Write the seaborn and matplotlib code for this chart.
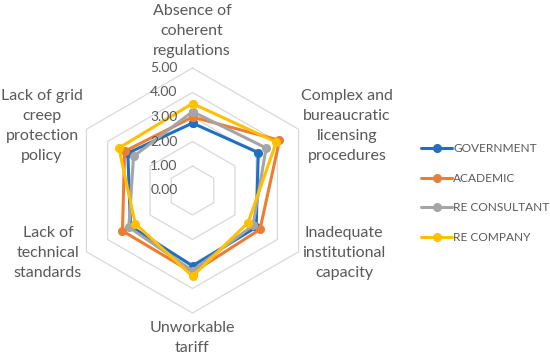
import numpy as np
import matplotlib
matplotlib.use('Agg')
import matplotlib.pyplot as plt
from matplotlib.transforms import offset_copy
import seaborn as sns

# data (clockwise from the top axis)
categories = ['Absence of\ncoherent\nregulations',
              'Complex and\nbureaucratic\nlicensing\nprocedures',
              'Inadequate\ninstitutional\ncapacity',
              'Unworkable\ntariff',
              'Lack of\ntechnical\nstandards',
              'Lack of grid\ncreep\nprotection\npolicy']
groups = ['GOVERNMENT', 'ACADEMIC', 'RE CONSULTANT', 'RE COMPANY']
government = [2.75, 3.10, 3.00, 3.08, 2.92, 3.05]
academic = [3.00, 4.10, 3.18, 3.35, 3.30, 3.20]
re_consultant = [3.22, 3.47, 2.85, 3.27, 3.00, 2.78]
re_company = [3.55, 3.95, 2.62, 3.50, 2.70, 3.47]
levels = [0, 1, 2, 3, 4, 5]

sns.set_style('white')
plt.rcParams['font.family'] = ['Lato', 'DejaVu Sans']
text_col = '#595959'
colors = ['#1F6FC5', '#ED7D31', '#A5A5A5', '#FFC000']

W, H = 550, 358
fig = plt.figure(figsize=(W / 100, H / 100), dpi=100)
cx, cy, R = 192.5, 190.5, 122.5
ax = fig.add_axes([(cx - R) / W, (H - cy - R) / H, 2 * R / W, 2 * R / H],
                  projection='polar')
ax.set_theta_zero_location('N')
ax.set_theta_direction(-1)
ax.set_ylim(0, 5)
ax.grid(False)
ax.set_xticks([])
ax.set_yticks([])
ax.spines['polar'].set_visible(False)
ax.patch.set_alpha(0)

n = len(categories)
angles = np.linspace(0, 2 * np.pi, n, endpoint=False).tolist()
angles_closed = angles + angles[:1]

# hexagonal grid
for lvl in levels[1:]:
    ax.plot(angles_closed, [lvl] * (n + 1), color='#D9D9D9', lw=0.9,
            zorder=0, clip_on=False)

# radial tick labels
tick_tr = offset_copy(ax.transData, fig=fig, x=-15, y=0, units='dots')
for lvl in levels:
    ax.text(0, lvl, f'{lvl:.2f}', transform=tick_tr, ha='right', va='center',
            fontsize=10, color=text_col)

series = [government, academic, re_consultant, re_company]
for name, vals, col in zip(groups, series, colors):
    ax.plot(angles_closed, vals + vals[:1], color=col, lw=2.2, marker='o',
            markersize=5.5, label=name, clip_on=False)

# category labels
label_pos = [(192, 31), (347, 126), (344, 253), (192, 338), (48, 253), (42, 126)]
for lab, (px, py) in zip(categories, label_pos):
    fig.text(px / W, 1 - py / H, lab, ha='center', va='center',
             fontsize=11.5, color=text_col, linespacing=1.55)

leg = fig.legend(loc='center left', bbox_to_anchor=(421 / W, 1 - 193 / H),
                 frameon=False, fontsize=8.6, handlelength=2.6,
                 handletextpad=0.1, labelspacing=1.55, borderpad=0,
                 borderaxespad=0)
for t in leg.get_texts():
    t.set_color(text_col)

plt.savefig('out.png', dpi=100)
